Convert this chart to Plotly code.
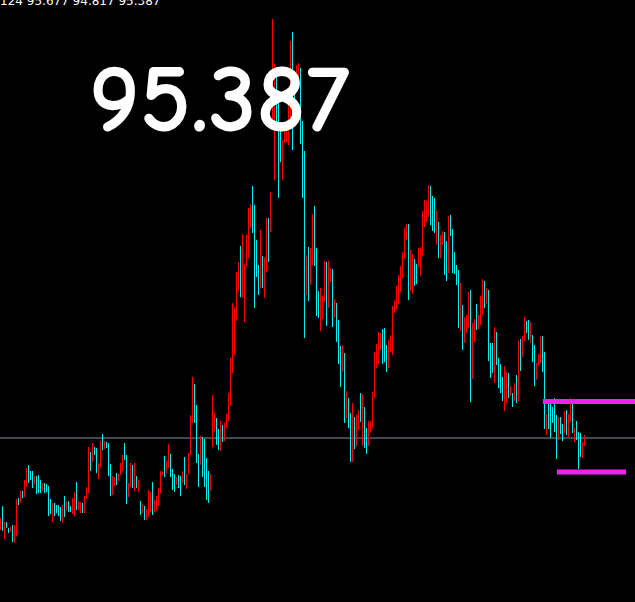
import plotly.graph_objects as go
import numpy as np

highs = [
    94.587, 94.707, 94.547, 94.547, 94.487, 94.497, 94.517, 94.517, 94.777, 94.787,
    94.857, 94.857, 94.967, 95.087, 95.117, 95.057, 95.057, 95.007, 95.007, 95.017,
    94.967, 94.937, 94.937, 94.927, 94.907, 94.777, 94.737, 94.737, 94.717, 94.717,
    94.697, 94.717, 94.807, 94.757, 94.757, 94.707, 94.787, 94.847, 94.947, 94.757,
    94.747, 94.737, 94.807, 94.897, 95.297, 95.247, 95.337, 95.297, 95.287, 95.137,
    95.357, 95.427, 95.357, 95.347, 95.337, 95.127, 95.007, 94.997, 95.037, 95.027,
    95.137, 95.217, 95.337, 95.217, 94.937, 95.137, 95.117, 95.137, 95.007, 94.967,
    94.757, 94.717, 94.707, 94.677, 94.867, 94.847, 94.947, 94.767, 94.807, 94.887,
    95.057, 95.057, 95.207, 95.157, 95.327, 95.227, 95.077, 95.027, 94.997, 95.017,
    95.007, 95.057, 95.197, 95.027, 95.237, 95.617, 95.997, 95.927, 95.717, 95.227,
    95.407, 95.397, 95.377, 95.187, 95.057, 95.027, 95.817, 95.637, 95.587, 95.477,
    95.557, 95.517, 95.537, 95.627, 95.837, 96.187, 96.737, 96.697, 97.047, 97.147,
    97.307, 97.427, 97.127, 97.417, 97.687, 97.727, 97.907, 97.717, 97.367, 97.117,
    97.467, 97.207, 97.197, 97.587, 97.587, 97.847, 99.577, 99.127, 99.007, 98.797,
    98.547, 98.367, 98.487, 98.517, 98.787, 99.357, 99.447, 99.057, 99.117, 99.137,
    99.087, 98.557, 98.257, 97.217, 97.297, 97.287, 97.627, 97.707, 97.287, 96.857,
    96.887, 96.807, 97.157, 97.147, 97.157, 97.087, 97.077, 96.777, 96.737, 96.567,
    96.307, 96.317, 96.237, 95.857, 95.787, 95.637, 95.737, 95.597, 95.617, 95.667,
    95.837, 95.827, 95.697, 95.487, 95.557, 95.557, 95.847, 96.247, 96.327, 96.447,
    96.437, 96.477, 96.487, 96.317, 96.367, 96.417, 96.707, 96.757, 96.907, 97.017,
    97.107, 97.247, 97.487, 97.527, 97.527, 97.267, 97.227, 97.177, 97.127, 97.287,
    97.297, 97.657, 97.767, 97.757, 97.917, 97.907, 97.807, 97.787, 97.667, 97.547,
    97.417, 97.457, 97.447, 97.357, 97.607, 97.617, 97.477, 97.247, 97.117, 97.067,
    96.937, 96.717, 96.597, 96.617, 96.847, 96.867, 96.537, 96.577, 96.727, 96.617,
    96.807, 96.977, 96.957, 96.887, 96.867, 96.337, 96.337, 96.497, 96.447, 96.187,
    96.127, 95.997, 96.107, 96.047, 96.037, 95.907, 95.837, 95.937, 96.017, 96.357,
    96.377, 96.407, 96.597, 96.557, 96.567, 96.547, 96.417, 96.317, 96.137, 96.227,
    96.407, 96.407, 96.247, 95.627, 95.727, 95.737, 95.697, 95.787, 95.617, 95.597,
    95.597, 95.527, 95.657, 95.667, 95.627, 95.787, 95.757, 95.497, 95.557, 95.447,
    95.437, 95.347, 95.417,
]

lows = [
    94.467, 94.457, 94.377, 94.487, 94.437, 94.447, 94.347, 94.337, 94.407, 94.717,
    94.737, 94.787, 94.797, 94.897, 94.937, 94.967, 94.887, 94.917, 94.827, 94.837,
    94.837, 94.857, 94.837, 94.847, 94.607, 94.627, 94.547, 94.607, 94.637, 94.607,
    94.557, 94.537, 94.597, 94.657, 94.647, 94.647, 94.627, 94.607, 94.667, 94.667,
    94.637, 94.637, 94.637, 94.777, 94.837, 95.057, 95.147, 95.217, 95.037, 94.977,
    95.097, 95.267, 95.277, 95.287, 95.007, 94.807, 94.817, 94.907, 94.917, 94.957,
    95.017, 95.057, 95.167, 94.727, 94.797, 94.897, 94.887, 94.857, 94.887, 94.847,
    94.617, 94.637, 94.567, 94.567, 94.597, 94.647, 94.617, 94.647, 94.657, 94.707,
    94.837, 95.017, 94.997, 95.037, 95.087, 94.997, 94.867, 94.847, 94.917, 94.887,
    94.807, 94.937, 94.917, 94.877, 95.027, 95.217, 95.537, 95.537, 95.137, 94.897,
    95.117, 94.997, 94.897, 94.767, 94.737, 94.857, 95.297, 95.457, 95.317, 95.267,
    95.257, 95.347, 95.357, 95.487, 95.557, 95.707, 96.037, 96.217, 96.557, 96.857,
    96.797, 96.797, 96.547, 97.107, 97.187, 97.487, 97.437, 96.687, 96.997, 96.817,
    96.887, 96.887, 96.787, 97.047, 97.147, 97.447, 98.487, 97.967, 98.547, 97.787,
    98.147, 97.967, 98.337, 98.347, 98.317, 98.517, 98.267, 98.667, 98.847, 98.937,
    98.327, 97.787, 96.387, 96.817, 96.757, 96.917, 97.117, 97.107, 96.607, 96.587,
    96.457, 96.577, 96.747, 96.507, 96.687, 96.947, 96.497, 96.587, 96.347, 96.127,
    95.897, 96.047, 95.537, 95.587, 95.487, 95.147, 95.147, 95.277, 95.307, 95.467,
    95.547, 95.307, 95.287, 95.227, 95.307, 95.437, 95.487, 95.787, 96.087, 96.127,
    96.267, 96.127, 96.147, 96.047, 96.087, 96.247, 96.217, 96.637, 96.677, 96.727,
    96.847, 96.987, 97.177, 97.367, 96.767, 96.857, 96.827, 96.907, 96.927, 97.097,
    97.007, 97.217, 97.497, 97.547, 97.597, 97.517, 97.457, 97.437, 97.317, 97.187,
    97.187, 97.317, 97.017, 96.957, 97.037, 97.407, 97.037, 97.027, 96.917, 96.487,
    96.457, 96.267, 96.337, 96.437, 96.487, 95.747, 95.977, 96.347, 96.467, 96.477,
    96.517, 96.617, 96.687, 96.727, 96.157, 95.987, 96.037, 95.937, 96.117, 95.887,
    95.837, 95.757, 95.657, 95.737, 95.787, 95.807, 95.697, 95.757, 95.737, 95.757,
    96.057, 96.197, 96.357, 96.437, 96.367, 96.337, 96.147, 95.907, 95.967, 96.107,
    96.137, 96.047, 95.477, 95.417, 95.477, 95.387, 95.537, 95.447, 95.177, 95.367,
    95.427, 95.357, 95.437, 95.417, 95.397, 95.547, 95.437, 95.347, 95.367, 95.077,
    95.197, 95.187, 95.307,
]

# R = up bar (red), C = down bar (cyan)
direction = list(
    "RCRCCRCRRC" "RCRRCCCRCC" "CRCCCCRCCC" "CRCRCCRRCR" "RCRRRCRCCR"
    "RCRCCCRRCR" "RRCCRRCRCR" "CRCRRRCRRR" "RRCRRCCCRC" "CRCRRRRCCC"
    "RCCCCRRRCC" "RCRRRRRRRR" "CRRRRRCCCC" "RCRRCRRRCC" "CRRRRRCCRR"
    "CCCRCRRCCC" "RRRCRRCRCC" "CRCRCCRCRR" "CRCCRRRRRR" "RCCCRRRRRR"
    "RRRRCRRCCR" "RRRRRCCCRC" "RRCCRCCCCC" "RCRRRCRRCR" "RRCRCCCRCC"
    "CCRRCRCRCR" "CRRCCRCCRR" "RCCRCCCCCR" "CCRCRRCRCC" "CRR"
)

last_price = 95.387
ohlc_text = "95.124 95.677 94.817 95.387"
resistance_level = 95.752
support_level = 95.047

n = len(highs)
idx = np.arange(n)
hi = np.array(highs)
lo = np.array(lows)
up = np.array([d == "R" for d in direction[:n]])

fig = go.Figure()
for mask, col in [(up, "#ff0000"), (~up, "#00f0f0")]:
    fig.add_trace(go.Bar(
        x=idx[mask], y=(hi - lo)[mask], base=lo[mask], width=0.5,
        marker=dict(color=col, line=dict(width=0)),
        hoverinfo="skip", showlegend=False,
    ))

fig.add_shape(type="line", xref="paper", x0=0, x1=1, yref="y",
              y0=last_price, y1=last_price, line=dict(color="#8090a4", width=1), layer="below")
fig.add_shape(type="line", xref="x", x0=271.25, x1=318, yref="y",
              y0=resistance_level, y1=resistance_level, line=dict(color="#ee22ee", width=5))
fig.add_shape(type="line", xref="x", x0=278.25, x1=312.75, yref="y",
              y0=support_level, y1=support_level, line=dict(color="#ee22ee", width=5))

fig.add_annotation(text=str(last_price), xref="paper", yref="paper", x=219/635, y=1 - 99/602,
                   xanchor="center", yanchor="middle", showarrow=False,
                   font=dict(family="Comic Sans MS, Comic Neue, Noto Sans", size=97,
                             color="white", weight="bold"))
fig.add_annotation(text=ohlc_text, xref="paper", yref="paper", x=162/635, y=1 + 8/602,
                   xanchor="right", yanchor="top", showarrow=False,
                   font=dict(family="DejaVu Sans", size=12, color="white"))

fig.update_layout(
    width=635, height=602,
    margin=dict(l=0, r=0, t=0, b=0),
    paper_bgcolor="black", plot_bgcolor="black",
    barmode="overlay",
    xaxis=dict(range=[-0.25, 317.25], visible=False, fixedrange=True),
    yaxis=dict(range=[99.767 - 6.02, 99.767], visible=False, fixedrange=True),
    showlegend=False,
)

fig.write_html("out.html", config={"displayModeBar": False, "staticPlot": True},
               post_script="document.body.style.margin='0';document.body.style.background='black';")
